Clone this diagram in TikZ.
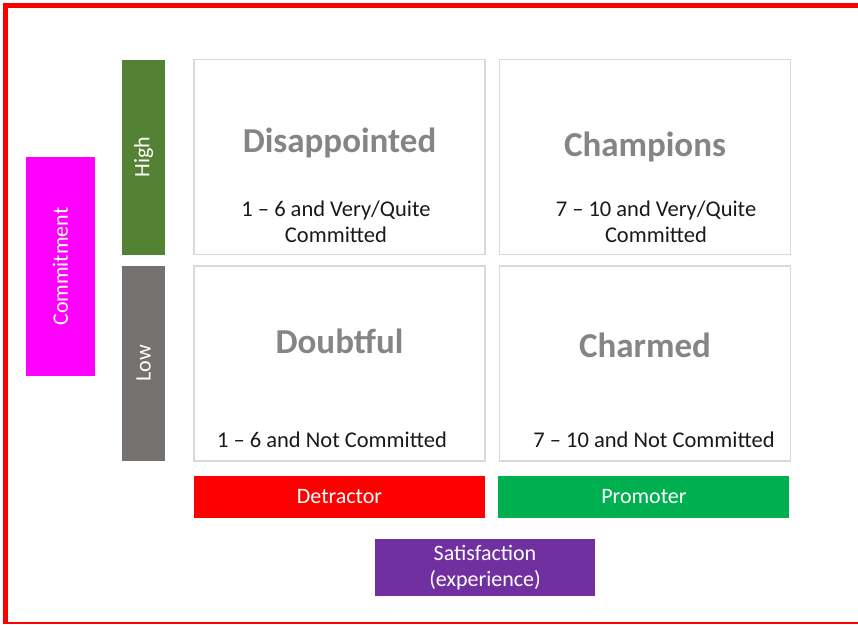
\documentclass[tikz,border=0pt]{standalone}
\usepackage{fontspec}
\setmainfont{Carlito}
\usetikzlibrary{positioning,calc}

\definecolor{highgreen}{HTML}{548235}
\definecolor{lowgrey}{HTML}{767171}
\definecolor{detred}{HTML}{FF0000}
\definecolor{promgreen}{HTML}{00B050}
\definecolor{satpurple}{HTML}{7030A0}
\definecolor{commagenta}{HTML}{FF00FF}
\definecolor{quadline}{HTML}{D9D9D9}
\definecolor{titlegrey}{HTML}{858585}

\tikzset{
  quad/.style={draw=quadline, line width=1.5pt, minimum width=291pt, minimum height=195pt, inner sep=0pt},
  bar/.style={minimum width=43pt, minimum height=195pt, inner sep=0pt, text=white, font=\fontsize{22}{26}\selectfont},
  tag/.style={minimum width=291pt, minimum height=42pt, inner sep=0pt, text=white, font=\fontsize{22}{26}\selectfont},
  heading/.style={anchor=base, text=titlegrey, font=\bfseries\fontsize{35}{42}\selectfont},
  descr/.style={anchor=base, align=center, text=black!90, font=\fontsize{22.5}{26.4}\selectfont},
}

\begin{document}
\begin{tikzpicture}[x=1pt, y=-1pt]
  \useasboundingbox (0,0) rectangle (858,624);
  % red frame: top, left and bottom bands only
  \fill[detred] (2.75,2.5) rectangle (858,8);
  \fill[detred] (2.75,2.5) rectangle (8.25,624);
  \fill[detred] (2.75,621.5) rectangle (858,624);

  % the four quadrants
  \node[quad] (dis) at (339.5,157) {};
  \node[quad, right=13pt of dis] (cha) {};
  \node[quad, below=10pt of dis] (dou) {};
  \node[quad, right=13pt of dou] (chr) {};

  % commitment axis
  \node[bar, fill=highgreen, left=28pt of dis] (high) {\rotatebox{90}{High}};
  \node[bar, fill=lowgrey, left=28pt of dou] (low) {\rotatebox{90}{Low}};
  \node[bar, fill=commagenta, minimum width=69pt, minimum height=219pt] (com) at (60.5,266.5) {\rotatebox{90}{Commitment}};

  % satisfaction axis
  \node[tag, fill=detred, below=14pt of dou] (det) {Detractor};
  \node[tag, fill=promgreen, right=13pt of det] (pro) {Promoter};
  \node[tag, fill=satpurple, minimum width=220pt, minimum height=57pt, align=center] (sat) at (485,567.5) {Satisfaction\\(experience)};

  % headings and descriptions (base = last line)
  \node[heading] (distitle) at ($(dis.north)+(0,94)$) {Disappointed};
  \node[heading] (chatitle) at ($(cha.north)+(0,98)$) {Champions};
  \node[heading] (doutitle) at ($(dou.north)+(0,88)$) {Doubtful};
  \node[heading] (chrtitle) at ($(chr.north)+(0,92)$) {Charmed};

  \node[descr] (distext) at ($(dis.north)+(-3.5,184)$) {1 -- 6 and Very/Quite\\Committed};
  \node[descr] (chatext) at ($(cha.north)+(11,184)$) {7 -- 10 and Very/Quite\\Committed};
  \node[descr] (doutext) at ($(dou.north)+(-7.5,182)$) {1 -- 6 and Not Committed};
  \node[descr] (chrtext) at ($(chr.north)+(9,182)$) {7 -- 10 and Not Committed};
\end{tikzpicture}
\end{document}
